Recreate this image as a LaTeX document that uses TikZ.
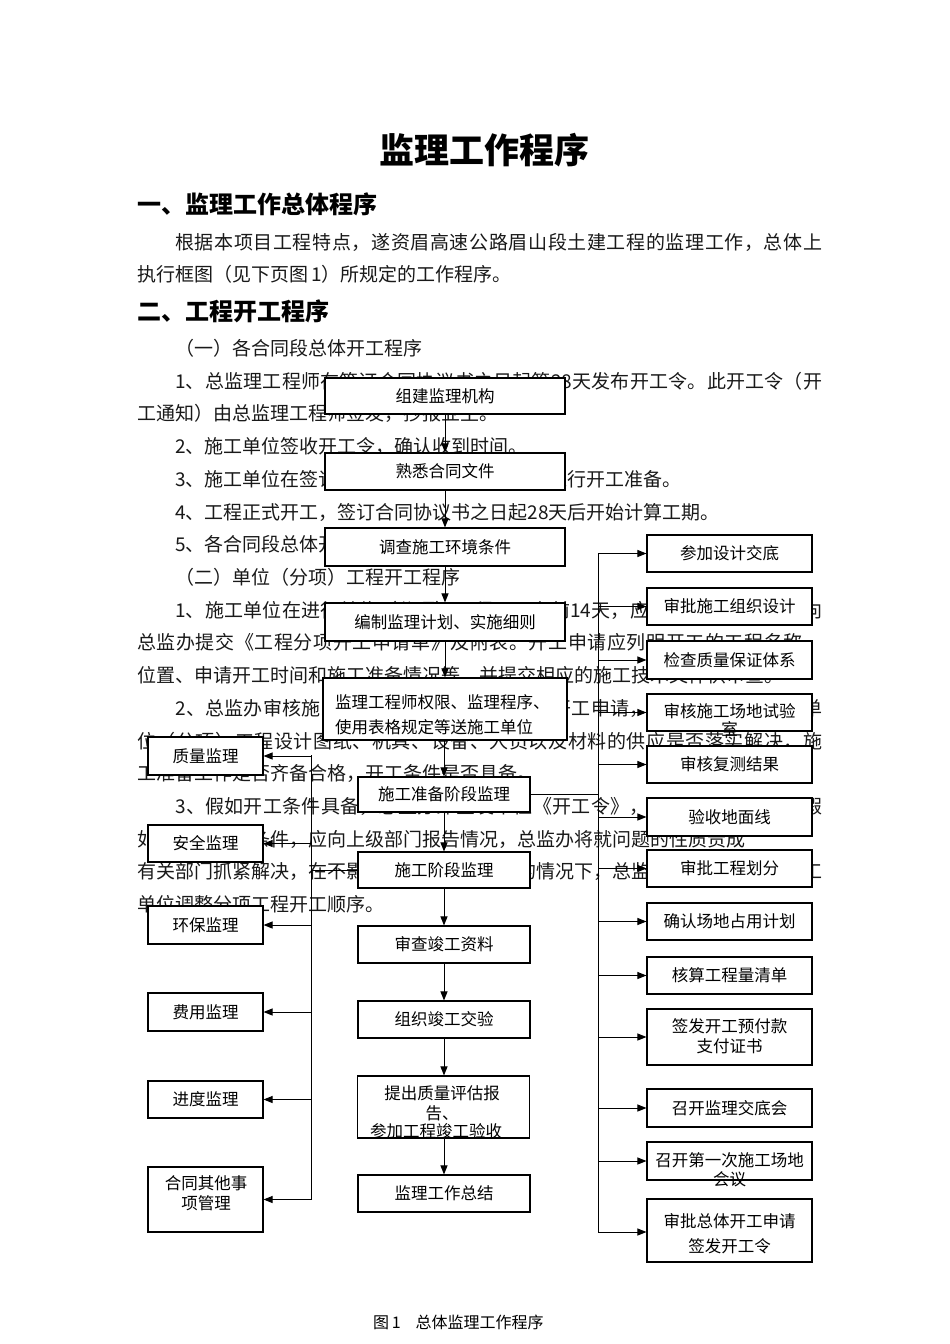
\documentclass[tikz,border=0pt]{standalone}
\usepackage{fontspec}
\setmainfont{Noto Sans CJK SC}
\newfontfamily\cjk{Noto Sans CJK SC}
\usetikzlibrary{arrows.meta}
\ExplSyntaxOn
\NewDocumentCommand\spreadline{mm}{\makebox[#1][s]{\tl_map_inline:nn{#2}{##1\hskip 0pt plus 1fil}\unskip}}
\ExplSyntaxOff
\newcommand\tline[4]{\node[body] (#1) at (#2,#3+7.2) {#4};}
\newcommand\jline[5]{\node[body] (#1) at (#2,#3+7.2) {\spreadline{#4}{#5}};}
\newcommand\blab[4]{\node[lbl] (#1) at (#2,#3+6.3) {#4};}
\begin{document}
\begin{tikzpicture}[x=1pt,y=-1pt,
  body/.style={font=\cjk\fontsize{19}{19}\selectfont, inner sep=0pt, anchor=base west, text=black!90},
  head/.style={font=\cjk\bfseries\fontsize{24}{24}\selectfont, inner sep=0pt, anchor=base west},
  box/.style={draw=black, fill=white, line width=1.1pt, inner sep=0pt, font=\cjk\fontsize{16.5}{19}\selectfont},
  lbl/.style={font=\cjk\fontsize{16.5}{19}\selectfont, inner sep=0pt, anchor=base},
  arr/.style={line width=1pt, -{Triangle[length=9pt,width=7pt]}},
  ln/.style={line width=1pt}]
\useasboundingbox (0,0) rectangle (950,1344);
\fill[white] (0,0) rectangle (950,1344);

% ---------- text ----------
\node[font=\cjk\bfseries\fontsize{35}{35}\selectfont, anchor=base, inner sep=0pt] (title) at (484,150+13.3) {监理工作程序};
\node[head] (h1) at (137,204+9.1) {一、监理工作总体程序};
\jline{t1}{175}{242}{647pt}{根据本项目工程特点，遂资眉高速公路眉山段土建工程的监理工作，总体上}
\tline{t2}{137}{274}{执行框图（见下页图\,1）所规定的工作程序。}
\node[head] (h2) at (137,311+9.1) {二、工程开工程序};
\tline{t3}{175}{348}{（一）各合同段总体开工程序}
\jline{t4}{175}{381}{647pt}{1、总监理工程师在签订合同协议书之日起第{28}天发布开工令。此开工令（开}
\tline{t5}{137}{413.5}{工通知）由总监理工程师签发，抄报业主。}
\tline{t6}{175}{446}{2、施工单位签收开工令，确认收到时间。}
\tline{t7}{175}{479}{3、施工单位在签订合同协议书之日起28天内进行开工准备。}
\tline{t8}{175}{512}{4、工程正式开工，签订合同协议书之日起28天后开始计算工期。}
\tline{t9}{175}{544}{5、各合同段总体开工时间由总监确定。}
\tline{t10}{175}{577}{（二）单位（分项）工程开工程序}
\jline{t11}{175}{610}{647pt}{1、施工单位在进行单位（分项）工程开工之前{14}天，应按规定以书面形式向}
\jline{t12}{137}{642}{685pt}{总监办提交《工程分项开工申请单》及附表。开工申请应列明开工的工程名称、}
\tline{t13}{137}{675}{位置、申请开工时间和施工准备情况等，并提交相应的施工技术文件供审查。}
\jline{t14}{175}{708}{647pt}{2、总监办审核施工单位提交的单位分项工程开工申请，重点审查所申报的单}
\jline{t15}{137}{741}{685pt}{位（分项）工程设计图纸、机具、设备、人员以及材料的供应是否落实解决，施}
\tline{t16}{137}{773}{工准备工作是否齐备合格，开工条件是否具备。}
\jline{t17}{175}{806}{647pt}{3、假如开工条件具备，总监办即签发单位《开工令》，单位工程可开工；假}
\tline{t18}{137}{839}{如不具备开工条件，应向上级部门报告情况，总监办将就问题的性质责成}
\jline{t19}{137}{871}{685pt}{有关部门抓紧解决，在不影响合同段总体工期的情况下，总监办可以及时要求施工}
\tline{t20}{137}{904}{单位调整分项工程开工顺序。}

% ---------- centre column ----------
\node[box, minimum width=240pt, minimum height=36pt] (b1) at (445,396) {组建监理机构};
\node[box, minimum width=240pt, minimum height=37pt] (b2) at (445,471.5) {熟悉合同文件};
\node[box, minimum width=240pt, minimum height=38pt] (b3) at (445,547) {调查施工环境条件};
\node[box, minimum width=240pt, minimum height=38pt] (b4) at (445,622) {编制监理计划、实施细则};
\node[box, minimum width=244pt, minimum height=62pt] (b5) at (445,709) {};
\node[box, minimum width=172pt, minimum height=35pt] (b6) at (444,794.5) {施工准备阶段监理};
\node[box, minimum width=172pt, minimum height=36pt] (b7) at (444,870) {施工阶段监理};
\node[box, minimum width=172pt, minimum height=37pt] (b8) at (444,944.5) {审查竣工资料};
\node[box, minimum width=172pt, minimum height=37pt] (b9) at (444,1019.5) {组织竣工交验};
\node[box, minimum width=172pt, minimum height=62pt] (b10) at (443.5,1107) {};
\node[box, minimum width=172pt, minimum height=37pt] (b11) at (444,1193.5) {监理工作总结};

% ---------- left column ----------
\node[box, minimum width=115pt, minimum height=38pt] (l1) at (205.5,756) {质量监理};
\node[box, minimum width=115pt, minimum height=37pt] (l2) at (205.5,843.5) {安全监理};
\node[box, minimum width=115pt, minimum height=38pt] (l3) at (205.5,925) {环保监理};
\node[box, minimum width=115pt, minimum height=38pt] (l4) at (205.5,1012) {费用监理};
\node[box, minimum width=115pt, minimum height=37pt] (l5) at (205.5,1099.5) {进度监理};
\node[box, minimum width=115pt, minimum height=65pt] (l6) at (205.5,1199.5) {};

% ---------- right column ----------
\node[box, minimum width=165pt, minimum height=37pt] (r1) at (729.5,553.5) {参加设计交底};
\node[box, minimum width=165pt, minimum height=37pt] (r2) at (729.5,606.5) {审批施工组织设计};
\node[box, minimum width=165pt, minimum height=38pt] (r3) at (729.5,660) {检查质量保证体系};
\node[box, minimum width=165pt, minimum height=37pt] (r4) at (729.5,712.5) {};
\node[box, minimum width=165pt, minimum height=37pt] (r5) at (729.5,764.5) {审核复测结果};
\node[box, minimum width=165pt, minimum height=38pt] (r6) at (729.5,817) {验收地面线};
\node[box, minimum width=165pt, minimum height=37pt] (r7) at (729.5,868.5) {审批工程划分};
\node[box, minimum width=165pt, minimum height=37pt] (r8) at (729.5,921.5) {确认场地占用计划};
\node[box, minimum width=165pt, minimum height=37pt] (r9) at (729.5,975.5) {核算工程量清单};
\node[box, minimum width=165pt, minimum height=56pt] (r10) at (729.5,1037) {};
\node[box, minimum width=165pt, minimum height=38pt] (r11) at (729.5,1108) {召开监理交底会};
\node[box, minimum width=165pt, minimum height=38pt] (r12) at (729.5,1161) {};
\node[box, minimum width=165pt, minimum height=63pt] (r13) at (729.5,1230.5) {};

% ---------- multi-line labels ----------
\node[lbl, anchor=base west] (b5a) at (335,702+6.3) {监理工程师权限、监理程序、};
\node[lbl, anchor=base west] (b5b) at (335,727+6.3) {使用表格规定等送施工单位};
\blab{b10a}{442}{1093}{提出质量评估报}
\blab{b10b}{442}{1113}{告、}
\blab{b10c}{436}{1131}{参加工程竣工验收}
\blab{l6a}{206}{1183}{合同其他事}
\blab{l6b}{206}{1203}{项管理}
\blab{r4a}{729.5}{711}{审核施工场地试验}
\blab{r4b}{729.5}{729}{室}
\blab{r10a}{729.5}{1026}{签发开工预付款}
\blab{r10b}{729.5}{1046}{支付证书}
\blab{r12a}{729.5}{1160}{召开第一次施工场地}
\blab{r12b}{729.5}{1179}{会议}
\blab{r13a}{729.5}{1221}{审批总体开工申请}
\blab{r13b}{729.5}{1246}{签发开工令}

% ---------- centre arrows ----------
\draw[arr] (b1.south) -- (b2.north);
\draw[arr] (b2.south) -- (b3.north);
\draw[arr] (b3.south) -- (b4.north);
\draw[arr] (b4.south) -- (b5.north);
\draw[arr] (b5.south -| b6.north) -- (b6.north);
\draw[arr] (b6.south) -- (b7.north);
\draw[arr] (b7.south) -- (b8.north);
\draw[arr] (b8.south) -- (b9.north);
\draw[arr] (b9.south) -- (b10.north -| b9.south);
\draw[arr] (b10.south -| b11.north) -- (b11.north);

% ---------- left branch ----------
\coordinate (lvTop) at (311,755);
\coordinate (lvBot) at (311,1200);
\draw[ln] (b7.west) -- (b7.west -| lvTop);
\draw[ln] (lvTop) -- (lvBot);
\foreach \n in {l1,l2,l3,l4,l5,l6} {
  \draw[arr] (lvTop |- \n.east) -- (\n.east);
}

% ---------- right branch ----------
\coordinate (rvTop) at (598,553.5);
\coordinate (rvBot) at (598,1232);
\draw[ln] (b6.east) -- (b6.east -| rvTop);
\draw[ln] (rvTop) -- (rvBot);
\foreach \n in {r1,r2,r3,r4,r5,r6,r7,r8,r9,r10,r11,r12} {
  \draw[arr] (rvTop |- \n.west) -- (\n.west);
}
\draw[arr] (rvBot) -- (rvBot -| r13.west);

% ---------- caption ----------
\node[font=\cjk\fontsize{16}{16}\selectfont, anchor=base west, inner sep=0pt] (cap) at (373,1322+6.1) {图\,1\hspace{15pt}总体监理工作程序};
\end{tikzpicture}
\end{document}
